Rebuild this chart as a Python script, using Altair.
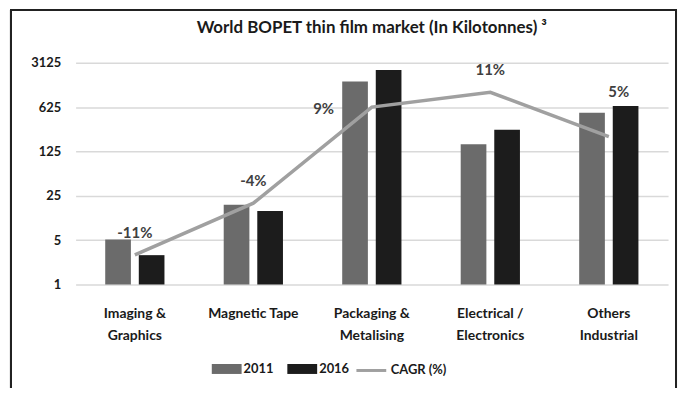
import altair as alt
import pandas as pd

categories = ["Imaging &\nGraphics", "Magnetic Tape", "Packaging &\nMetalising",
              "Electrical /\nElectronics", "Others\nIndustrial"]
years = ["2011", "2016"]
values_2011 = [5.1, 18, 1590, 162, 508]
values_2016 = [2.9, 14.4, 2400, 275, 654]
cagr = [-11, -4, 9, 11, 5]
cagr_labels = ["-11%", "-4%", "9%", "11%", "5%"]
y_ticks = [1, 5, 25, 125, 625, 3125]

FONT = "Lato"

bar_df = pd.DataFrame({
    "category": categories * 2,
    "year": [years[0]] * len(categories) + [years[1]] * len(categories),
    "value": values_2011 + values_2016,
})
line_df = pd.DataFrame({
    "category": categories,
    "cagr": cagr,
    "label": cagr_labels,
    "series": ["CAGR (%)"] * len(categories),
})

x_enc = alt.X("category:N", sort=categories, title=None,
              scale=alt.Scale(paddingInner=0.5, paddingOuter=0.25),
              axis=alt.Axis(labelExpr="split(datum.label, '\\n')", labelAngle=0,
                            domain=False, ticks=False, grid=False,
                            labelFont=FONT, labelFontSize=14, labelFontWeight="bold",
                            labelColor="#1a1a1a", labelPadding=22, labelLineHeight=22))

bars = alt.Chart(bar_df).mark_bar().encode(
    x=x_enc,
    xOffset=alt.XOffset("year:N", scale=alt.Scale(paddingInner=0.235, paddingOuter=0)),
    y=alt.Y("value:Q", title=None,
            scale=alt.Scale(type="log", base=5, domain=[1, 3125]),
            axis=alt.Axis(values=y_ticks, format="d", domain=False, ticks=False,
                          gridColor="#d9d9d9", gridWidth=1.5,
                          labelFont=FONT, labelFontSize=13, labelFontWeight="bold",
                          labelColor="#1a1a1a", labelPadding=15)),
    y2=alt.datum(1),
    color=alt.Color("year:N", scale=alt.Scale(domain=years, range=["#6b6b6b", "#1c1c1c"]),
                    legend=alt.Legend(title=None, orient="none", direction="horizontal",
                                      legendX=142, legendY=298,
                                      symbolType="M-1.5,-0.5h3v1h-3z", symbolSize=400,
                                      symbolStrokeWidth=0, labelOffset=7, columnPadding=13,
                                      labelFont=FONT, labelFontSize=13, labelFontWeight="bold",
                                      labelColor="#1a1a1a")),
)

y_line = alt.Y("cagr:Q", scale=alt.Scale(domain=[-15, 15]), axis=None)

line = alt.Chart(line_df).mark_line(strokeWidth=3.5).encode(
    x=alt.X("category:N", sort=categories),
    y=y_line,
    stroke=alt.Stroke("series:N", scale=alt.Scale(range=["#a0a0a0"]),
                      legend=alt.Legend(title=None, orient="none", direction="horizontal",
                                        legendX=281, legendY=293,
                                        symbolType="stroke", symbolSize=900,
                                        symbolStrokeWidth=3, labelOffset=3,
                                        labelFont=FONT, labelFontSize=13, labelFontWeight="bold",
                                        labelColor="#1a1a1a")),
)

text_style = dict(font=FONT, fontSize=15, fontWeight="bold", color="#404040", baseline="middle")

above = alt.Chart(line_df).transform_filter(
    "datum.label != '9%' && datum.label != '5%'"
).mark_text(dy=-22, **text_style).encode(
    x=alt.X("category:N", sort=categories), y=y_line, text="label:N")

left = alt.Chart(line_df).transform_filter("datum.label == '9%'").mark_text(
    dx=-38, dy=2, align="right", **text_style).encode(
    x=alt.X("category:N", sort=categories), y=y_line, text="label:N")

upper_right = alt.Chart(line_df).transform_filter("datum.label == '5%'").mark_text(
    dx=10, dy=-45, **text_style).encode(
    x=alt.X("category:N", sort=categories), y=y_line, text="label:N")

border = alt.Chart(line_df).mark_rect(filled=False, stroke="#222222", strokeWidth=2).encode(
    x=alt.value(-65), x2=alt.value(604), y=alt.value(-53), y2=alt.value(400))

chart = alt.layer(bars, line, above, left, upper_right, border).resolve_scale(
    y="independent"
).properties(
    width=596, height=223,
    title=alt.Title("World BOPET thin film market (In Kilotonnes) ³", font=FONT,
                    fontSize=17, fontWeight="bold", color="#1a1a1a", anchor="middle",
                    offset=-28),
    autosize=alt.AutoSizeParams(type="none"),
    padding={"left": 68, "top": 54, "right": 10, "bottom": 103},
).configure_view(stroke=None)

chart.save("out.html", embed_options={"renderer": "svg", "actions": False})
